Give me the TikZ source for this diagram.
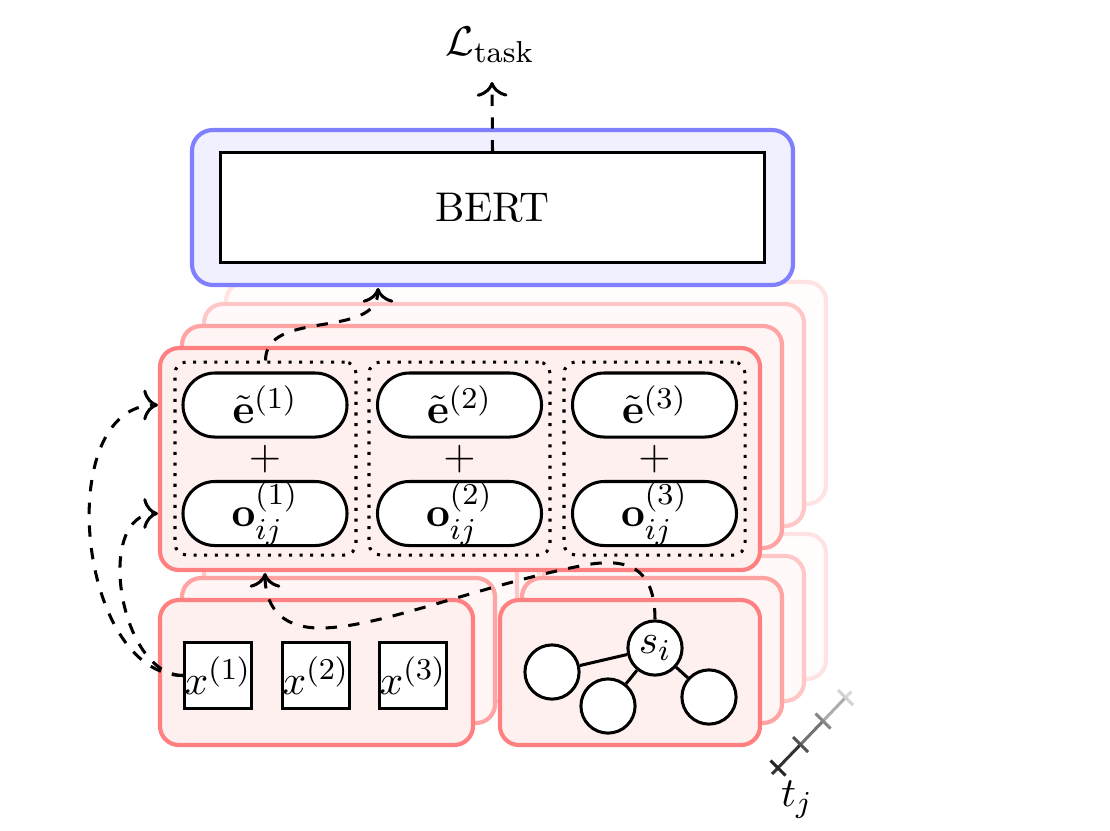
\documentclass[tikz,border=0pt]{standalone}
\usepackage{amsmath}
\usetikzlibrary{fit,arrows.meta}
\begin{document}
\begin{tikzpicture}[x=0.264pt,y=-0.264pt,
  font=\fontsize{10.95pt}{13.6pt}\selectfont,
  layer/.style={line width=1.1pt, rounded corners=5pt, inner sep=0pt},
  lay0/.style={layer, draw=red!50, fill=red!6},
  lay1/.style={layer, draw=red!36, fill=red!4},
  lay2/.style={layer, draw=red!22, fill=red!2.5},
  lay3/.style={layer, draw=red!11, fill=red!1.2},
  bluebox/.style={line width=1.1pt, rounded corners=5.5pt, inner sep=0pt, draw=blue!50, fill=blue!6},
  bertbox/.style={draw, thick, fill=white, minimum width=143.4pt, minimum height=28.8pt, inner sep=0pt},
  pill/.style={draw, thick, fill=white, rounded corners=8.4pt, minimum width=43.3pt, minimum height=16.9pt, inner sep=0pt},
  grp/.style={draw, thick, dotted, rounded corners=3pt, inner sep=0pt},
  xbox/.style={draw, thick, fill=white, minimum size=17.4pt, inner sep=0pt},
  gnode/.style={draw, thick, circle, fill=white, minimum size=14.3pt, inner sep=0pt},
  conn/.style={thick, dashed, -{To[scale=1.15]}},
  edge/.style={thick}]
\useasboundingbox (0,0) rectangle (1110,830);

% left bottom stack
\foreach \k/\s in {3/lay3,2/lay2,1/lay1}{
  \node[\s, fit={({160+22*\k},{600-22*\k}) ({473+22*\k},{745-22*\k})}] (l\k) {};}
\node[lay0, fit={(160,600) (473,745)}] (left) {};
% right bottom stack
\foreach \k/\s in {3/lay3,2/lay2,1/lay1}{
  \node[\s, fit={({500+22*\k},{600-22*\k}) ({760+22*\k},{745-22*\k})}] (r\k) {};}
\node[lay0, fit={(500,600) (760,745)}] (right) {};
% middle stack
\foreach \k/\s in {3/lay3,2/lay2,1/lay1}{
  \node[\s, fit={({160+22*\k},{348-22*\k}) ({760+22*\k},{570-22*\k})}] (m\k) {};}
\node[lay0, fit={(160,348) (760,570)}] (mid) {};

% BERT
\node[bluebox, fit={(192,130) (793,285)}] (bertbg) {};
\node[bertbox] (bert) at (492.5,207.5) {BERT};
\node (ltask) at (490,45) {$\mathcal{L}_{\text{task}}$};
\coordinate (ltip) at (492,82);

% groups
\node[grp, fit={(175,362) (356,555)}] (g1) {};
\node[grp, fit={(369,362) (550,555)}] (g2) {};
\node[grp, fit={(564,362) (745,555)}] (g3) {};
\foreach \i/\x in {1/265,2/459.5,3/654.5}{
  \node[pill] (e\i) at (\x,405) {$\tilde{\mathbf{e}}^{(\i)}$};
  \node[pill] (o\i) at (\x,513.5) {$\mathbf{o}_{ij}^{(\i)}$};
  \node (p\i) at (\x,459) {$+$};
}

% inputs
\node[xbox] (x1) at (218,675.5) {$x^{(1)}$};
\node[xbox] (x2) at (316,675.5) {$x^{(2)}$};
\node[xbox] (x3) at (413,675.5) {$x^{(3)}$};

% graph
\node[gnode] (si) at (655,648) {$s_i$};
\node[gnode] (ga) at (552,672) {};
\node[gnode] (gb) at (608,706) {};
\node[gnode] (gc) at (709,697) {};
\draw[edge] (si) -- (ga);
\draw[edge] (si) -- (gb);
\draw[edge] (si) -- (gc);

% connectors
\draw[conn] (bert.north) -- (ltip);
\coordinate (bin) at (378,288);
\draw[conn] (g1.north) to[out=90,in=-90] (bin);
\draw[conn] (x1.west) to[out=180,in=180] (mid.west |- e1);
\draw[conn] (x1.west) to[out=180,in=180] (mid.west |- o1);
\coordinate (min) at (265,573);
\draw[conn] (si.north) .. controls (655,565) and (625,558) .. (585,565)
  .. controls (480,585) and (380,628) .. (320,628)
  .. controls (278,628) and (265,603) .. (min);

% time axis
\coordinate (t0) at (778,768);
\coordinate (t1) at (800.5,744.5);
\coordinate (t2) at (823,721);
\coordinate (t3) at (845.5,697.5);
\draw[thick, black!80] ([shift={(-6,6)}]t0) -- (t1);
\draw[thick, black!55] (t1) -- (t2);
\draw[thick, black!32] (t2) -- (t3);
\draw[thick, black!15] (t3) -- ([shift={(6,-6)}]t3);
\foreach \c/\g in {t0/85,t1/68,t2/48,t3/18}{
  \draw[thick, black!\g] ([shift={(-7.5,-7.5)}]\c) -- ([shift={(7.5,7.5)}]\c);}
\node (tj) at (797,800) {$t_j$};
\end{tikzpicture}
\end{document}
